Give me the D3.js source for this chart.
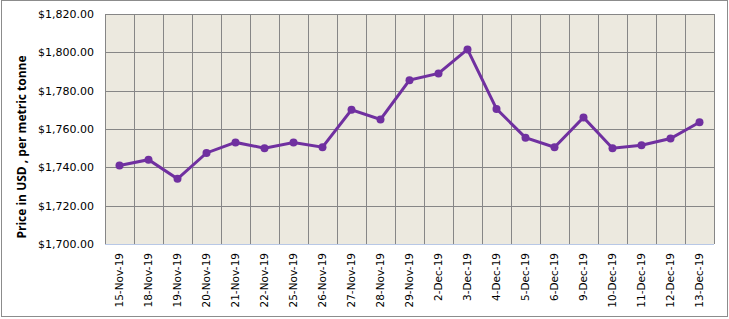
<!DOCTYPE html>
<html>
<head>
<meta charset="utf-8">
<script src="https://cdn.jsdelivr.net/npm/d3@7"></script>
<style>
  body { margin: 0; background: #fff; }
</style>
</head>
<body>
<div id="chart"></div>
<script>
// dates and daily price (USD per metric tonne)
var dates = ["15-Nov-19","18-Nov-19","19-Nov-19","20-Nov-19","21-Nov-19","22-Nov-19","25-Nov-19",
             "26-Nov-19","27-Nov-19","28-Nov-19","29-Nov-19","2-Dec-19","3-Dec-19","4-Dec-19",
             "5-Dec-19","6-Dec-19","9-Dec-19","10-Dec-19","11-Dec-19","12-Dec-19","13-Dec-19"];
var prices = [1741, 1744, 1734, 1747.5, 1753, 1750, 1753, 1750.5, 1770, 1765, 1785.5,
              1789, 1801.5, 1770.5, 1755.5, 1750.5, 1766, 1750, 1751.5, 1755, 1763.5];
var yTicks = [1700, 1720, 1740, 1760, 1780, 1800, 1820];

const width = 729, height = 319;
const plot = {left: 105, right: 714, top: 14, bottom: 244};

const svg = d3.select("#chart")
              .append("svg")
              .attr("width", width)
              .attr("height", height);

// outer frame
svg.append("rect")
   .attr("x", 1.5).attr("y", 0.5)
   .attr("width", width - 3).attr("height", height - 3)
   .attr("fill", "#fff")
   .attr("stroke", "#8c8c8c");

var x = d3.scaleBand()
          .domain(dates)
          .range([plot.left, plot.right]);

var y = d3.scaleLinear()
          .domain([1700, 1820])
          .range([plot.bottom, plot.top]);

// plot background
svg.append("rect")
   .attr("x", plot.left).attr("y", plot.top)
   .attr("width", plot.right - plot.left).attr("height", plot.bottom - plot.top)
   .attr("fill", "#ECE9DF");

// horizontal grid
svg.append("g")
   .selectAll("line")
   .data(yTicks.slice(1))
   .enter()
   .append("line")
   .attr("x1", plot.left).attr("x2", plot.right)
   .attr("y1", d => Math.round(y(d)) + 0.5).attr("y2", d => Math.round(y(d)) + 0.5)
   .attr("stroke", "#868686");

// vertical grid (category boundaries)
var bounds = dates.map(d => x(d)).concat([plot.right]);
svg.append("g")
   .selectAll("line")
   .data(bounds)
   .enter()
   .append("line")
   .attr("x1", d => Math.round(d) + 0.5).attr("x2", d => Math.round(d) + 0.5)
   .attr("y1", plot.top).attr("y2", plot.bottom)
   .attr("stroke", "#868686");

// bottom axis line
svg.append("line")
   .attr("x1", plot.left).attr("x2", plot.right)
   .attr("y1", plot.bottom + 0.5).attr("y2", plot.bottom + 0.5)
   .attr("stroke", "#B8C8E6");

// y axis labels
var fmt = d3.format("$,.2f");
svg.append("g")
   .attr("transform", "translate(" + plot.left + ",0)")
   .call(d3.axisLeft(y).tickValues(yTicks).tickFormat(fmt).tickSize(0).tickPadding(11))
   .call(g => g.select(".domain").remove())
   .selectAll("text")
   .style("font-family", "Verdana, 'DejaVu Sans', sans-serif")
   .style("font-size", "11px")
   .attr("fill", "#000");

// x axis labels
svg.append("g")
   .attr("transform", "translate(0," + plot.bottom + ")")
   .call(d3.axisBottom(x).tickSize(0).tickPadding(0))
   .call(g => g.select(".domain").remove())
   .selectAll("text")
   .attr("transform", "rotate(-90)")
   .attr("x", -9).attr("y", 0).attr("dy", "0.35em")
   .style("text-anchor", "end")
   .style("font-family", "Verdana, 'DejaVu Sans', sans-serif")
   .style("font-size", "10.5px")
   .attr("fill", "#000");

// y axis title
svg.append("text")
   .attr("transform", "translate(26,147) rotate(-90)")
   .style("text-anchor", "middle")
   .style("font-family", "'Open Sans', 'DejaVu Sans', sans-serif")
   .style("font-weight", "bold")
   .style("font-size", "12px")
   .text("Price in USD , per metric tonne");

// line and markers
var line = d3.line()
             .x((d, i) => x(dates[i]) + x.bandwidth() / 2)
             .y(d => y(d));

svg.append("path")
   .datum(prices)
   .attr("d", line)
   .attr("fill", "none")
   .attr("stroke", "#7030A0")
   .attr("stroke-width", 3);

svg.append("g")
   .selectAll("circle")
   .data(prices)
   .enter()
   .append("circle")
   .attr("cx", (d, i) => x(dates[i]) + x.bandwidth() / 2)
   .attr("cy", d => y(d))
   .attr("r", 4)
   .attr("fill", "#7030A0");
</script>
</body>
</html>
